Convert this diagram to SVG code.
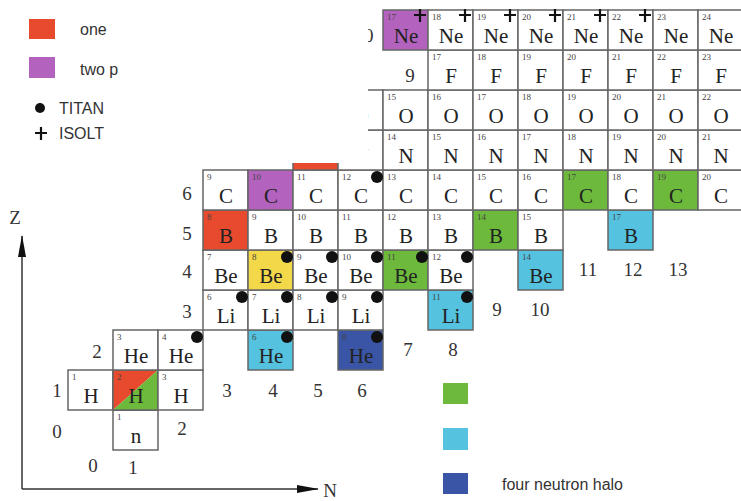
<svg xmlns="http://www.w3.org/2000/svg" width="741" height="501" viewBox="0 0 741 501">
<style>
.c{fill:#fff;stroke:#666;stroke-width:1.5}
.red{fill:#e84a2e}.pur{fill:#b363bd}.yel{fill:#f3d94a}.grn{fill:#6cb93c}.cya{fill:#55c3df}.dbl{fill:#3a55a5}
.s{font-family:"Liberation Serif","DejaVu Serif",serif;font-size:21px;fill:#222;text-anchor:middle}
.a{font-family:"Liberation Serif","DejaVu Serif",serif;font-size:9px;fill:#444}
.l{font-family:"Liberation Serif","DejaVu Serif",serif;font-size:19px;fill:#333;text-anchor:middle}
.g{font-family:"Liberation Sans","DejaVu Sans",sans-serif;font-size:16px;fill:#333}
.d{fill:#111}
.p{stroke:#111;stroke-width:2.2}
</style>
<defs>
<clipPath id="vis"><path d="M368,0 H741 V501 H0 V163 H368 Z"/></clipPath>
<clipPath id="leg"><rect x="0" y="0" width="126" height="160"/></clipPath>
<marker id="arr" viewBox="0 0 22 10" refX="21" refY="5" markerWidth="22" markerHeight="10" markerUnits="userSpaceOnUse" orient="auto"><path d="M0,1 L22,5 L0,9 Z" fill="#111"/></marker>
</defs>
<rect width="741" height="501" fill="#fff"/>
<g id="chart" clip-path="url(#vis)">
<g id="n1"><rect class="c" x="113" y="410" width="45" height="40"/><text class="a" x="117" y="420">1</text><text class="s" x="136" y="443">n</text></g>
<g id="H1"><rect class="c" x="68" y="370" width="45" height="40"/><text class="a" x="72" y="380">1</text><text class="s" x="91" y="403">H</text></g>
<g id="H2"><rect class="c" x="113" y="370" width="45" height="40"/><path d="M113,370 H158 L113,410 Z" class="red"/><path d="M158,370 V410 H113 Z" class="grn"/><rect x="113" y="370" width="45" height="40" fill="none" stroke="#666" stroke-width="1.5"/><text class="a" x="117" y="380">2</text><text class="s" x="136" y="403">H</text></g>
<g id="H3"><rect class="c" x="158" y="370" width="45" height="40"/><text class="a" x="162" y="380">3</text><text class="s" x="181" y="403">H</text></g>
<g id="He3"><rect class="c" x="113" y="330" width="45" height="40"/><text class="a" x="117" y="340">3</text><text class="s" x="136" y="363">He</text></g>
<g id="He4"><rect class="c" x="158" y="330" width="45" height="40"/><text class="a" x="162" y="340">4</text><text class="s" x="181" y="363">He</text></g>
<g id="He6"><rect class="c cya" x="248" y="330" width="45" height="40"/><text class="a" x="252" y="340">6</text><text class="s" x="271" y="363">He</text></g>
<g id="He8"><rect class="c dbl" x="338" y="330" width="45" height="40"/><text class="a" x="342" y="340">8</text><text class="s" x="361" y="363">He</text></g>
<g id="Li6"><rect class="c" x="203" y="290" width="45" height="40"/><text class="a" x="207" y="300">6</text><text class="s" x="226" y="323">Li</text></g>
<g id="Li7"><rect class="c" x="248" y="290" width="45" height="40"/><text class="a" x="252" y="300">7</text><text class="s" x="271" y="323">Li</text></g>
<g id="Li8"><rect class="c" x="293" y="290" width="45" height="40"/><text class="a" x="297" y="300">8</text><text class="s" x="316" y="323">Li</text></g>
<g id="Li9"><rect class="c" x="338" y="290" width="45" height="40"/><text class="a" x="342" y="300">9</text><text class="s" x="361" y="323">Li</text></g>
<g id="Li11"><rect class="c cya" x="428" y="290" width="45" height="40"/><text class="a" x="432" y="300">11</text><text class="s" x="451" y="323">Li</text></g>
<g id="Be7"><rect class="c" x="203" y="250" width="45" height="40"/><text class="a" x="207" y="260">7</text><text class="s" x="226" y="283">Be</text></g>
<g id="Be8"><rect class="c yel" x="248" y="250" width="45" height="40"/><text class="a" x="252" y="260">8</text><text class="s" x="271" y="283">Be</text></g>
<g id="Be9"><rect class="c" x="293" y="250" width="45" height="40"/><text class="a" x="297" y="260">9</text><text class="s" x="316" y="283">Be</text></g>
<g id="Be10"><rect class="c" x="338" y="250" width="45" height="40"/><text class="a" x="342" y="260">10</text><text class="s" x="361" y="283">Be</text></g>
<g id="Be11"><rect class="c grn" x="383" y="250" width="45" height="40"/><text class="a" x="387" y="260">11</text><text class="s" x="406" y="283">Be</text></g>
<g id="Be12"><rect class="c" x="428" y="250" width="45" height="40"/><text class="a" x="432" y="260">12</text><text class="s" x="451" y="283">Be</text></g>
<g id="Be14"><rect class="c cya" x="518" y="250" width="45" height="40"/><text class="a" x="522" y="260">14</text><text class="s" x="541" y="283">Be</text></g>
<g id="B8"><rect class="c red" x="203" y="210" width="45" height="40"/><text class="a" x="207" y="220">8</text><text class="s" x="226" y="243">B</text></g>
<g id="B9"><rect class="c" x="248" y="210" width="45" height="40"/><text class="a" x="252" y="220">9</text><text class="s" x="271" y="243">B</text></g>
<g id="B10"><rect class="c" x="293" y="210" width="45" height="40"/><text class="a" x="297" y="220">10</text><text class="s" x="316" y="243">B</text></g>
<g id="B11"><rect class="c" x="338" y="210" width="45" height="40"/><text class="a" x="342" y="220">11</text><text class="s" x="361" y="243">B</text></g>
<g id="B12"><rect class="c" x="383" y="210" width="45" height="40"/><text class="a" x="387" y="220">12</text><text class="s" x="406" y="243">B</text></g>
<g id="B13"><rect class="c" x="428" y="210" width="45" height="40"/><text class="a" x="432" y="220">13</text><text class="s" x="451" y="243">B</text></g>
<g id="B14"><rect class="c grn" x="473" y="210" width="45" height="40"/><text class="a" x="477" y="220">14</text><text class="s" x="496" y="243">B</text></g>
<g id="B15"><rect class="c" x="518" y="210" width="45" height="40"/><text class="a" x="522" y="220">15</text><text class="s" x="541" y="243">B</text></g>
<g id="B17"><rect class="c cya" x="608" y="210" width="45" height="40"/><text class="a" x="612" y="220">17</text><text class="s" x="631" y="243">B</text></g>
<g id="C9"><rect class="c" x="203" y="170" width="45" height="40"/><text class="a" x="207" y="180">9</text><text class="s" x="226" y="203">C</text></g>
<g id="C10"><rect class="c pur" x="248" y="170" width="45" height="40"/><text class="a" x="252" y="180">10</text><text class="s" x="271" y="203">C</text></g>
<g id="C11"><rect class="c" x="293" y="170" width="45" height="40"/><text class="a" x="297" y="180">11</text><text class="s" x="316" y="203">C</text></g>
<g id="C12"><rect class="c" x="338" y="170" width="45" height="40"/><text class="a" x="342" y="180">12</text><text class="s" x="361" y="203">C</text></g>
<g id="C13"><rect class="c" x="383" y="170" width="45" height="40"/><text class="a" x="387" y="180">13</text><text class="s" x="406" y="203">C</text></g>
<g id="C14"><rect class="c" x="428" y="170" width="45" height="40"/><text class="a" x="432" y="180">14</text><text class="s" x="451" y="203">C</text></g>
<g id="C15"><rect class="c" x="473" y="170" width="45" height="40"/><text class="a" x="477" y="180">15</text><text class="s" x="496" y="203">C</text></g>
<g id="C16"><rect class="c" x="518" y="170" width="45" height="40"/><text class="a" x="522" y="180">16</text><text class="s" x="541" y="203">C</text></g>
<g id="C17"><rect class="c grn" x="563" y="170" width="45" height="40"/><text class="a" x="567" y="180">17</text><text class="s" x="586" y="203">C</text></g>
<g id="C18"><rect class="c" x="608" y="170" width="45" height="40"/><text class="a" x="612" y="180">18</text><text class="s" x="631" y="203">C</text></g>
<g id="C19"><rect class="c grn" x="653" y="170" width="45" height="40"/><text class="a" x="657" y="180">19</text><text class="s" x="676" y="203">C</text></g>
<g id="C20"><rect class="c" x="698" y="170" width="45" height="40"/><text class="a" x="702" y="180">20</text><text class="s" x="721" y="203">C</text></g>
<g id="N12"><rect class="c red" x="293" y="130" width="45" height="40"/></g>
<g id="N13"><rect class="c" x="338" y="130" width="45" height="40"/><text class="s" x="361" y="163">N</text></g>
<g id="N14"><rect class="c" x="383" y="130" width="45" height="40"/><text class="a" x="387" y="140">14</text><text class="s" x="406" y="163">N</text></g>
<g id="N15"><rect class="c" x="428" y="130" width="45" height="40"/><text class="a" x="432" y="140">15</text><text class="s" x="451" y="163">N</text></g>
<g id="N16"><rect class="c" x="473" y="130" width="45" height="40"/><text class="a" x="477" y="140">16</text><text class="s" x="496" y="163">N</text></g>
<g id="N17"><rect class="c" x="518" y="130" width="45" height="40"/><text class="a" x="522" y="140">17</text><text class="s" x="541" y="163">N</text></g>
<g id="N18"><rect class="c" x="563" y="130" width="45" height="40"/><text class="a" x="567" y="140">18</text><text class="s" x="586" y="163">N</text></g>
<g id="N19"><rect class="c" x="608" y="130" width="45" height="40"/><text class="a" x="612" y="140">19</text><text class="s" x="631" y="163">N</text></g>
<g id="N20"><rect class="c" x="653" y="130" width="45" height="40"/><text class="a" x="657" y="140">20</text><text class="s" x="676" y="163">N</text></g>
<g id="N21"><rect class="c" x="698" y="130" width="45" height="40"/><text class="a" x="702" y="140">21</text><text class="s" x="721" y="163">N</text></g>
<g id="O14"><rect class="c" x="338" y="90" width="45" height="40"/><text class="s" x="361" y="123">O</text></g>
<g id="O15"><rect class="c" x="383" y="90" width="45" height="40"/><text class="a" x="387" y="100">15</text><text class="s" x="406" y="123">O</text></g>
<g id="O16"><rect class="c" x="428" y="90" width="45" height="40"/><text class="a" x="432" y="100">16</text><text class="s" x="451" y="123">O</text></g>
<g id="O17"><rect class="c" x="473" y="90" width="45" height="40"/><text class="a" x="477" y="100">17</text><text class="s" x="496" y="123">O</text></g>
<g id="O18"><rect class="c" x="518" y="90" width="45" height="40"/><text class="a" x="522" y="100">18</text><text class="s" x="541" y="123">O</text></g>
<g id="O19"><rect class="c" x="563" y="90" width="45" height="40"/><text class="a" x="567" y="100">19</text><text class="s" x="586" y="123">O</text></g>
<g id="O20"><rect class="c" x="608" y="90" width="45" height="40"/><text class="a" x="612" y="100">20</text><text class="s" x="631" y="123">O</text></g>
<g id="O21"><rect class="c" x="653" y="90" width="45" height="40"/><text class="a" x="657" y="100">21</text><text class="s" x="676" y="123">O</text></g>
<g id="O22"><rect class="c" x="698" y="90" width="45" height="40"/><text class="a" x="702" y="100">22</text><text class="s" x="721" y="123">O</text></g>
<g id="F17"><rect class="c" x="428" y="50" width="45" height="40"/><text class="a" x="432" y="60">17</text><text class="s" x="451" y="83">F</text></g>
<g id="F18"><rect class="c" x="473" y="50" width="45" height="40"/><text class="a" x="477" y="60">18</text><text class="s" x="496" y="83">F</text></g>
<g id="F19"><rect class="c" x="518" y="50" width="45" height="40"/><text class="a" x="522" y="60">19</text><text class="s" x="541" y="83">F</text></g>
<g id="F20"><rect class="c" x="563" y="50" width="45" height="40"/><text class="a" x="567" y="60">20</text><text class="s" x="586" y="83">F</text></g>
<g id="F21"><rect class="c" x="608" y="50" width="45" height="40"/><text class="a" x="612" y="60">21</text><text class="s" x="631" y="83">F</text></g>
<g id="F22"><rect class="c" x="653" y="50" width="45" height="40"/><text class="a" x="657" y="60">22</text><text class="s" x="676" y="83">F</text></g>
<g id="F23"><rect class="c" x="698" y="50" width="45" height="40"/><text class="a" x="702" y="60">23</text><text class="s" x="721" y="83">F</text></g>
<g id="Ne17"><rect class="c pur" x="383" y="10" width="45" height="40"/><text class="a" x="387" y="20">17</text><text class="s" x="406" y="43">Ne</text></g>
<g id="Ne18"><rect class="c" x="428" y="10" width="45" height="40"/><text class="a" x="432" y="20">18</text><text class="s" x="451" y="43">Ne</text></g>
<g id="Ne19"><rect class="c" x="473" y="10" width="45" height="40"/><text class="a" x="477" y="20">19</text><text class="s" x="496" y="43">Ne</text></g>
<g id="Ne20"><rect class="c" x="518" y="10" width="45" height="40"/><text class="a" x="522" y="20">20</text><text class="s" x="541" y="43">Ne</text></g>
<g id="Ne21"><rect class="c" x="563" y="10" width="45" height="40"/><text class="a" x="567" y="20">21</text><text class="s" x="586" y="43">Ne</text></g>
<g id="Ne22"><rect class="c" x="608" y="10" width="45" height="40"/><text class="a" x="612" y="20">22</text><text class="s" x="631" y="43">Ne</text></g>
<g id="Ne23"><rect class="c" x="653" y="10" width="45" height="40"/><text class="a" x="657" y="20">23</text><text class="s" x="676" y="43">Ne</text></g>
<g id="Ne24"><rect class="c" x="698" y="10" width="45" height="40"/><text class="a" x="702" y="20">24</text><text class="s" x="721" y="43">Ne</text></g>
<g id="dots">
<circle class="d" cx="197" cy="337" r="6"/><circle class="d" cx="287" cy="337" r="6"/><circle class="d" cx="377" cy="337" r="6"/>
<circle class="d" cx="242" cy="297" r="6"/><circle class="d" cx="287" cy="297" r="6"/><circle class="d" cx="332" cy="297" r="6"/><circle class="d" cx="377" cy="297" r="6"/><circle class="d" cx="467" cy="297" r="6"/>
<circle class="d" cx="287" cy="257" r="6"/><circle class="d" cx="332" cy="257" r="6"/><circle class="d" cx="377" cy="257" r="6"/><circle class="d" cx="422" cy="257" r="6"/><circle class="d" cx="467" cy="257" r="6"/>
<circle class="d" cx="377" cy="177" r="6"/>
</g>
<g id="plus" class="p">
<path d="M420,9 V22 M414,15 H426"/><path d="M465,9 V22 M459,15 H471"/><path d="M510,9 V22 M504,15 H516"/>
<path d="M555,9 V22 M549,15 H561"/><path d="M600,9 V22 M594,15 H606"/><path d="M645,9 V22 M639,15 H651"/>
</g>
<g id="zlabels">
<text class="l" x="57" y="438">0</text><text class="l" x="57" y="397">1</text><text class="l" x="97" y="358">2</text>
<text class="l" x="187" y="318">3</text><text class="l" x="187" y="278">4</text><text class="l" x="187" y="240">5</text><text class="l" x="187" y="200">6</text>
<text class="l" x="410" y="82">9</text><text class="l" x="364" y="42">10</text>
</g>
<g id="nlabels">
<text class="l" x="93" y="472">0</text><text class="l" x="133" y="474">1</text><text class="l" x="182" y="435">2</text>
<text class="l" x="227" y="397">3</text><text class="l" x="273" y="397">4</text><text class="l" x="318" y="397">5</text><text class="l" x="362" y="397">6</text>
<text class="l" x="408" y="356">7</text><text class="l" x="453" y="356">8</text>
<text class="l" x="497" y="316">9</text><text class="l" x="540" y="316">10</text>
<text class="l" x="588" y="276">11</text><text class="l" x="633" y="276">12</text><text class="l" x="678" y="276">13</text>
</g>
</g>
<g id="connectors">
<line x1="22" y1="489" x2="22" y2="236" stroke="#333" stroke-width="1.5" marker-end="url(#arr)"/>
<line x1="22" y1="489" x2="318" y2="489" stroke="#333" stroke-width="1.5" marker-end="url(#arr)"/>
</g>
<text class="l" x="15" y="224">Z</text>
<text class="l" x="330" y="497">N</text>
<g id="legend1" clip-path="url(#leg)">
<rect class="red" x="29" y="19" width="26" height="20"/><text class="g" x="80" y="35">one</text>
<rect class="pur" x="29" y="57" width="26" height="21"/><text class="g" x="80" y="75">two p</text>
<circle class="d" cx="40" cy="108" r="5"/><text class="g" x="59" y="114">TITAN</text>
<path class="p" d="M41,127 V140 M35,133 H47"/><text class="g" x="59" y="139">ISOLT</text>
</g>
<g id="legend2">
<rect class="grn" x="443" y="383" width="25" height="21"/>
<rect class="cya" x="443" y="428" width="25" height="22"/>
<rect class="dbl" x="443" y="473" width="25" height="21"/><text class="g" x="502" y="490">four neutron halo</text>
</g>
</svg>
